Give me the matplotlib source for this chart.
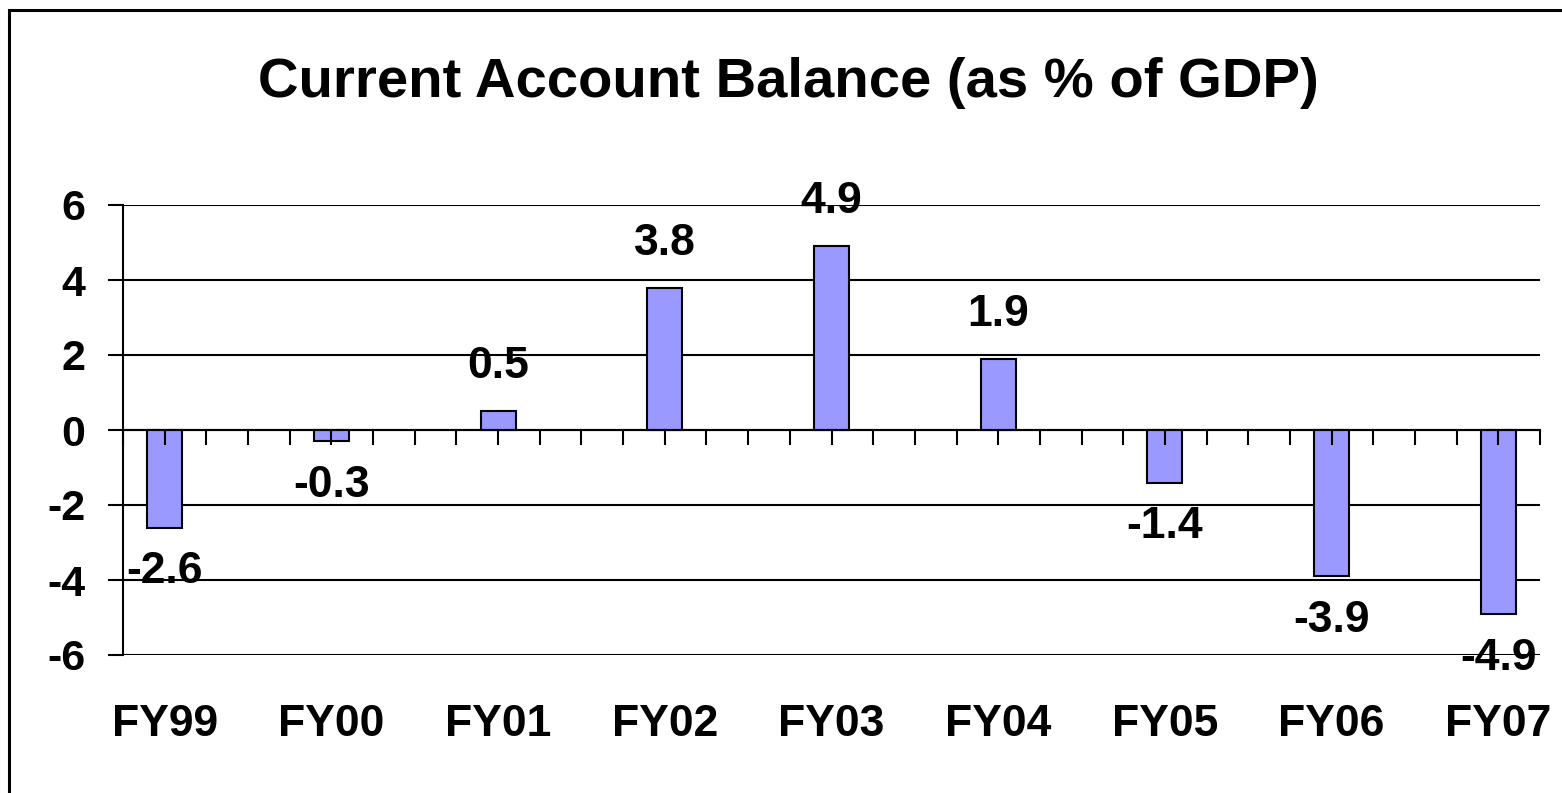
import numpy as np
import matplotlib
matplotlib.use("Agg")
import matplotlib.pyplot as plt
from matplotlib.patches import Rectangle

years = ["FY99", "FY00", "FY01", "FY02", "FY03", "FY04", "FY05", "FY06", "FY07"]
balance = [-2.6, -0.3, 0.5, 3.8, 4.9, 1.9, -1.4, -3.9, -4.9]
yticks = [-6, -4, -2, 0, 2, 4, 6]

plt.rcParams['font.family'] = ['Liberation Sans', 'DejaVu Sans']
plt.rcParams['font.weight'] = 'bold'

fig = plt.figure(figsize=(15.62, 7.93), dpi=100)
ax = fig.add_axes([123/1562, 1-655/793, (1540-123)/1562, (655-205)/793])

x = np.arange(len(years))
ax.bar(x, balance, width=0.21, color='#9999FF', edgecolor='black', linewidth=1.5, zorder=3)

for xi, v in zip(x, balance):
    off = 32 if v > 0 else -32
    ax.annotate(f"{v:.1f}", (xi, v), xytext=(0, off), textcoords='offset points',
                ha='center', va='center', fontsize=32, fontweight='bold', zorder=6)

ax.set_xlim(-0.25, len(years) - 0.75)
ax.set_ylim(-6, 6)
ax.set_yticks(yticks)
ax.set_yticklabels([str(t) for t in yticks])
ax.yaxis.grid(True, color='black', linewidth=1.5)
ax.set_axisbelow(True)
ax.tick_params(axis='y', length=11, width=1.5, pad=16, labelsize=31)

ax.set_xticks(x)
ax.set_xticklabels(years)
ax.tick_params(axis='x', length=0, pad=35, labelsize=32)

for s in ['top', 'right', 'bottom']:
    ax.spines[s].set_visible(False)
ax.spines['left'].set_linewidth(1.5)

# zero line with its own tick marks pointing down
zax = ax.secondary_xaxis(0.5)
zax.set_xticks(np.arange(-0.25, len(years) - 0.5, 0.25))
zax.set_xticklabels([])
zax.xaxis.set_ticks_position('bottom')
zax.tick_params(axis='x', direction='out', length=11, width=1.5,
                labelbottom=False, labeltop=False)
zax.spines['bottom'].set_linewidth(1.5)
zax.spines['top'].set_linewidth(1.5)
zax.set_zorder(5)

fig.text(788/1562, 1-83/793, "Current Account Balance (as % of GDP)",
         ha='center', va='center', fontsize=40.5, fontweight='bold')

fig.patches.append(Rectangle((9/1562, -0.05), 1.2, 1.05 - 10/793,
                             transform=fig.transFigure, fill=False,
                             edgecolor='black', linewidth=2.2))

fig.savefig("out.png", dpi=100)
